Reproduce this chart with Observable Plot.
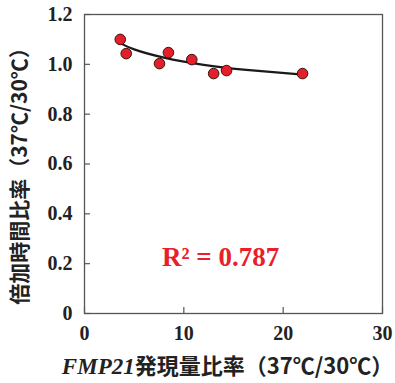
<!DOCTYPE html>
<html><head><meta charset="utf-8">
<script src="https://cdn.jsdelivr.net/npm/d3@7"></script>
<script src="https://cdn.jsdelivr.net/npm/@observablehq/plot@0.6"></script>
<style>body{margin:0;background:#fff}</style>
</head><body><div id="chart"></div>
<script>
const ptX = [3.6, 4.2, 7.55, 8.45, 10.8, 13.0, 14.3, 21.95];
const ptY = [1.10, 1.043, 1.003, 1.047, 1.019, 0.963, 0.975, 0.963];
const fitX = [3.6, 5, 8, 12, 16, 22];
const fitY = [1.085, 1.06, 1.027, 0.998, 0.979, 0.959];
const xTicks = [0, 10, 20, 30];
const yTicks = [0, 0.2, 0.4, 0.6, 0.8, 1.0, 1.2];
const xTitle = "FMP21発現量比率（37℃/30℃）";
const yTitle = "倍加時間比率（37℃/30℃）";
const r2Label = "R² = 0.787";

const pts = ptX.map((x, i) => ({x, y: ptY[i]}));
const fit = fitX.map((x, i) => ({x, y: fitY[i]}));
const serif = "'Liberation Serif', 'Times New Roman', serif";
const cjk = "'Noto Sans CJK JP', sans-serif";

const chart = Plot.plot({
  width: 395, height: 383,
  marginLeft: 84, marginRight: 13, marginTop: 14, marginBottom: 70,
  style: {fontFamily: serif, background: "#fff"},
  x: {domain: [0, 30]},
  y: {domain: [0, 1.2]},
  marks: [
    Plot.frame({stroke: "#555", strokeWidth: 1.3}),
    Plot.ruleX(xTicks, {x: d => d, y1: 0, y2: 0.024, stroke: "#555", strokeWidth: 1.2}),
    Plot.ruleY(yTicks, {y: d => d, x1: 0, x2: 0.6, stroke: "#555", strokeWidth: 1.2}),
    Plot.axisX(xTicks, {tickSize: 0, tickPadding: 12, fontSize: 20, fontWeight: "bold", fill: "#222", tickFormat: d => String(d), label: null}),
    Plot.axisY(yTicks, {tickSize: 0, tickPadding: 12, fontSize: 20, fontWeight: "bold", fill: "#222", tickFormat: d => d === 0 ? "0" : d.toFixed(1), label: null}),
    Plot.line(fit, {x: "x", y: "y", curve: "natural", stroke: "#1a1a1a", strokeWidth: 2.2}),
    Plot.dot(pts, {x: "x", y: "y", r: 5.3, fill: "#e3202a", stroke: "#3a1010", strokeWidth: 1}),
    Plot.text([r2Label], {x: 13.7, y: 0.225, text: d => d, fontSize: 27, fontWeight: "bold", fill: "#e8202a", fontFamily: serif}),
    Plot.text([xTitle], {frameAnchor: "bottom", textAnchor: "middle", dx: -6, dy: 60, text: d => d, fontSize: 22, fontWeight: "bold", fill: "#222", fontFamily: cjk, className: "xtitle"}),
    Plot.text([yTitle], {frameAnchor: "left", textAnchor: "middle", dx: -64, dy: 7, rotate: -90, text: d => d, fontSize: 21, fontWeight: "bold", fill: "#222", fontFamily: cjk})
  ]
});
document.getElementById("chart").append(chart);

// style "FMP21" as italic serif within the x title
d3.select(chart).selectAll("g.xtitle text").each(function() {
  const t = d3.select(this);
  const full = t.text();
  t.text(null);
  t.append("tspan").attr("font-family", serif).attr("font-style", "italic").attr("font-size", 23).text(full.slice(0, 5));
  t.append("tspan").text(full.slice(5));
});
</script></body></html>
